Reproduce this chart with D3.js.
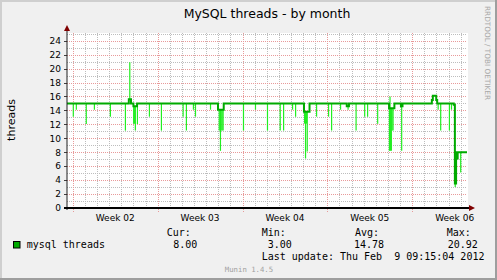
<!DOCTYPE html>
<html>
<head>
<meta charset="utf-8">
<script src="https://cdn.jsdelivr.net/npm/d3@7"></script>
<style>
    html, body { margin: 0; padding: 0; background: #f0f0f0; }
    svg { display: block; }
</style>
</head>
<body>
<div id="content"></div>
<script>
// ======= data (time = days since Jan 1 2012 00:00 UTC) =======
var viewStart = 6.52;
var viewEnd = 39.52;

// average line, step points
var avgDays    = [6.52, 11.62, 11.80, 12.00, 12.30, 18.98, 19.45, 26.07, 26.53, 29.60, 29.78, 33.09, 33.53, 34.07, 34.20, 36.62, 36.70, 36.98, 37.06, 38.43, 38.52, 38.62, 38.66, 38.75, 39.52];
var avgThreads = [15,   15.6,  15,    14.6,  15,    14.1,  15,    13.8,  15,    14.6,  15,    14.3,  15,    14.6,  15,    15.5,  16.1,  15.5,  15,    14.8,  3.5,   8,     7.1,   8,     8];

// minimum spikes
var dipDays    = [7.04, 7.29, 8.11, 8.78, 10.10, 11.34, 12.02, 12.10, 12.16, 12.33, 13.32, 14.31, 16.10, 16.37, 16.95, 17.12, 18.36,
                  19.08, 19.16, 19.18, 19.24, 19.32, 19.40, 21.08, 22.07, 23.06, 24.11, 24.39, 25.13, 25.38,
                  26.12, 26.20, 26.28, 26.34, 27.11, 28.10, 28.35, 29.09, 29.71, 30.37, 31.08, 31.32, 32.15,
                  33.12, 33.20, 33.28, 33.34, 33.42, 34.13, 37.14, 37.35, 38.07, 38.24, 38.55, 39.00];
var dipThreads = [13.1, 14.1, 12.05, 14.1, 13.1, 11.1, 12.1, 12.1, 11.1, 12.05, 13.1, 11.1, 13.1, 11.1, 14.1, 13.1, 14.1,
                  11.1, 11.1, 8.2, 11.1, 11.1, 11.1, 11.1, 14.1, 11.1, 11.1, 11.1, 14.1, 13.1,
                  12.1, 7.1, 12.1, 8.1, 13.1, 13.1, 11.1, 14.1, 14.1, 11.1, 13.1, 13.1, 12.1,
                  8.2, 8.2, 8.2, 11.1, 11.1, 8.2, 14.1, 11.1, 11.1, 14.1, 3.0, 5.1];

// maximum spikes
var peakDays    = [11.70, 33.17];
var peakThreads = [20.92, 16.0];

var yTicks = [0, 2, 4, 6, 8, 10, 12, 14, 16, 18, 20, 22, 24];
var legendHeads = ["Cur:", "Min:", "Avg:", "Max:"];
var legendValues = ["8.00", "3.00", "14.78", "20.92"];
var seriesName = "mysql threads";
var lastUpdate = "Last update: Thu Feb  9 09:15:04 2012";

// ======= formatting =======
var width = 497;
var height = 280;
var plot = {left: 67, right: 467, top: 33, bottom: 208};
var lineColor = "#00aa00";
var spikeColor = "#22ee22";
var sans = "'DejaVu Sans', sans-serif";
var mono = "'DejaVu Sans Mono', monospace";
var legendCols = [[166.7, 173.3], [261.7, 267.7], [355, 354], [446.7, 447.7]];

function toDate(d) {
    return new Date(Date.UTC(2012, 0, 1) + d * 86400000);
}

// ======= scales =======
var xScale = d3.scaleUtc()
    .domain([toDate(viewStart), toDate(viewEnd)])
    .range([plot.left, plot.right]);
var yScale = d3.scaleLinear()
    .domain([0, 25.1])
    .range([plot.bottom, plot.top]);

var svgEl = d3.select("#content")
    .append("svg")
        .attr("width", width)
        .attr("height", height);

// ======= frame =======
svgEl.append("rect").attr("width", width).attr("height", height).attr("fill", "#f0f0f0");
svgEl.append("path").attr("d", "M0,0H497V2H2V280H0Z").attr("fill", "#cfcfcf");
svgEl.append("path").attr("d", "M497,0V280H0V278H495V0Z").attr("fill", "#9e9e9e");
svgEl.append("rect")
    .attr("x", plot.left).attr("y", plot.top)
    .attr("width", plot.right - plot.left + 1).attr("height", plot.bottom - plot.top)
    .attr("fill", "#ffffff");

// ======= grid =======
var minorY = d3.range(1, 26).filter(function(v) { return v % 2 == 1; });
svgEl.append("g").selectAll("line")
    .data(minorY)
    .enter().append("line")
        .attr("x1", plot.left).attr("x2", plot.right)
        .attr("y1", function(d) { return Math.round(yScale(d)) + 0.5; })
        .attr("y2", function(d) { return Math.round(yScale(d)) + 0.5; })
        .attr("stroke", "#bdbdbd").attr("stroke-dasharray", "1,1");

var days = d3.utcDay.range(toDate(viewStart), toDate(viewEnd));
svgEl.append("g").selectAll("line")
    .data(days.filter(function(d) { return d.getUTCDay() != 0; }))
    .enter().append("line")
        .attr("x1", function(d) { return Math.round(xScale(d)) + 0.5; })
        .attr("x2", function(d) { return Math.round(xScale(d)) + 0.5; })
        .attr("y1", plot.top).attr("y2", plot.bottom + 1)
        .attr("stroke", "#bdbdbd").attr("stroke-dasharray", "1,1");

svgEl.append("g").selectAll("line")
    .data(yTicks.filter(function(d) { return d > 0; }))
    .enter().append("line")
        .attr("x1", plot.left).attr("x2", plot.right)
        .attr("y1", function(d) { return Math.round(yScale(d)) + 0.5; })
        .attr("y2", function(d) { return Math.round(yScale(d)) + 0.5; })
        .attr("stroke", "#e89a9a").attr("stroke-dasharray", "1,1");

var weeks = d3.utcSunday.range(toDate(viewStart), toDate(viewEnd));
svgEl.append("g").selectAll("line")
    .data(weeks)
    .enter().append("line")
        .attr("x1", function(d) { return Math.round(xScale(d)) + 0.5; })
        .attr("x2", function(d) { return Math.round(xScale(d)) + 0.5; })
        .attr("y1", plot.top).attr("y2", plot.bottom + 4)
        .attr("stroke", "#e89a9a").attr("stroke-dasharray", "1,1");

// ======= y axis labels =======
var yAxis = svgEl.append("g");
yAxis.selectAll("line")
    .data(yTicks)
    .enter().append("line")
        .attr("x1", plot.left - 3).attr("x2", plot.left)
        .attr("y1", function(d) { return Math.round(yScale(d)) + 0.5; })
        .attr("y2", function(d) { return Math.round(yScale(d)) + 0.5; })
        .attr("stroke", "#404040");
yAxis.selectAll("text")
    .data(yTicks)
    .enter().append("text")
        .attr("x", 61)
        .attr("y", function(d) { return yScale(d) + 3.3; })
        .attr("text-anchor", "end")
        .style("font-family", sans).style("font-size", "9px")
        .text(function(d) { return d; });

// ======= x axis labels =======
var weekLabel = d3.utcFormat("Week %V");
svgEl.append("g").selectAll("text")
    .data(weeks)
    .enter().append("text")
        .attr("x", function(d) { return xScale(d3.utcHour.offset(d, 84)); })
        .attr("y", 220.7)
        .attr("text-anchor", "middle")
        .style("font-family", sans).style("font-size", "9px")
        .text(function(d) { return weekLabel(d3.utcHour.offset(d, 84)); });

// ======= series =======
function avgAt(t) {
    var i = d3.bisectRight(avgDays, t) - 1;
    return avgThreads[Math.max(0, i)];
}

var spikes = svgEl.append("g");
spikes.selectAll(".dip")
    .data(dipDays)
    .enter().append("line")
        .attr("class", "dip")
        .attr("x1", function(d) { return xScale(toDate(d)); })
        .attr("x2", function(d) { return xScale(toDate(d)); })
        .attr("y1", function(d) { return yScale(avgAt(d)); })
        .attr("y2", function(d, i) { return yScale(dipThreads[i]); })
        .attr("stroke", spikeColor).attr("stroke-width", 1.2);
spikes.selectAll(".peak")
    .data(peakDays)
    .enter().append("line")
        .attr("class", "peak")
        .attr("x1", function(d) { return xScale(toDate(d)); })
        .attr("x2", function(d) { return xScale(toDate(d)); })
        .attr("y1", function(d) { return yScale(avgAt(d)); })
        .attr("y2", function(d, i) { return yScale(peakThreads[i]); })
        .attr("stroke", spikeColor).attr("stroke-width", 1.2);

var avgLine = d3.line()
    .x(function(d) { return xScale(toDate(d)); })
    .y(function(d, i) { return yScale(avgThreads[i]); })
    .curve(d3.curveStepAfter);
svgEl.append("path")
    .attr("d", avgLine(avgDays))
    .attr("fill", "none")
    .attr("stroke", lineColor)
    .attr("stroke-width", 2);

// ======= axes and arrows =======
svgEl.append("line")
    .attr("x1", plot.left).attr("x2", plot.left)
    .attr("y1", plot.bottom + 2).attr("y2", 29)
    .attr("stroke", "#202020").attr("stroke-width", 1);
svgEl.append("line")
    .attr("x1", plot.left - 3).attr("x2", 470)
    .attr("y1", plot.bottom).attr("y2", plot.bottom)
    .attr("stroke", "#000000").attr("stroke-width", 2);
svgEl.append("path").attr("d", "M64,31L70,31L67,25Z").attr("fill", "#7f0000");
svgEl.append("path").attr("d", "M469,205L469,211L475,208Z").attr("fill", "#7f0000");

// ======= titles =======
svgEl.append("text")
    .attr("x", 267).attr("y", 18.3)
    .attr("text-anchor", "middle")
    .style("font-family", sans).style("font-size", "12.5px")
    .text("MySQL threads - by month");
svgEl.append("text")
    .attr("transform", "translate(15,120) rotate(-90)")
    .attr("text-anchor", "middle")
    .style("font-family", sans).style("font-size", "11px")
    .text("threads");
svgEl.append("text")
    .attr("transform", "translate(485,6) rotate(90)")
    .style("font-family", sans).style("font-size", "7.3px")
    .attr("fill", "#a8a8a8")
    .text("RRDTOOL / TOBI OETIKER");

// ======= legend =======
var legend = svgEl.append("g")
    .style("font-family", mono).style("font-size", "10px");
legend.selectAll(".head")
    .data(legendHeads)
    .enter().append("text")
        .attr("class", "head")
        .attr("x", function(d, i) { return legendCols[i][0]; })
        .attr("y", 236)
        .text(function(d) { return d; });
legend.selectAll(".val")
    .data(legendValues)
    .enter().append("text")
        .attr("class", "val")
        .attr("x", function(d, i) { return legendCols[i][1]; })
        .attr("y", 248)
        .text(function(d) { return d; });
legend.append("rect")
    .attr("x", 13.5).attr("y", 241.5)
    .attr("width", 6.5).attr("height", 6.5)
    .attr("fill", lineColor).attr("stroke", "#000").attr("stroke-width", 1);
legend.append("text")
    .attr("x", 26.7).attr("y", 248)
    .text(seriesName);
legend.append("text")
    .attr("x", 261.7).attr("y", 260)
    .attr("xml:space", "preserve")
    .style("white-space", "pre")
    .text(lastUpdate);

svgEl.append("text")
    .attr("x", 249).attr("y", 271.5)
    .attr("text-anchor", "middle")
    .style("font-family", mono).style("font-size", "7.3px")
    .attr("fill", "#a0a0a0")
    .text("Munin 1.4.5");
</script>
</body>
</html>
